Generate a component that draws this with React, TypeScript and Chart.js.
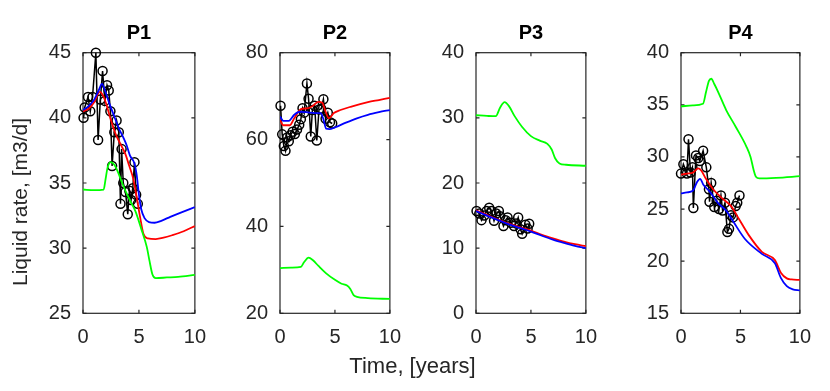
import React, { useEffect, useRef } from 'react';
import { Chart, registerables } from 'chart.js';

Chart.register(...registerables);

const FONT = '"Liberation Sans", Arial, Helvetica, sans-serif';
const AXIS = '#262626';

// ---------- P1 ----------
const p1BlueT = [0, 0.5, 1.0, 1.4, 1.7, 2.0, 2.4, 2.8, 3.2, 3.6, 3.9, 4.2, 4.6, 4.8, 5.0, 5.2, 5.5, 5.9, 6.4, 7.0, 7.8, 8.8, 10];
const p1BlueV = [40.6, 40.9, 41.4, 42.1, 42.6, 42.0, 41.0, 40.1, 39.2, 38.5, 37.9, 37.1, 36.5, 35.6, 34.1, 33.0, 32.3, 32.0, 31.95, 32.1, 32.4, 32.75, 33.15];
const p1RedT = [0, 0.5, 1.0, 1.5, 1.8, 2.1, 2.4, 2.9, 3.4, 3.8, 4.1, 4.5, 4.8, 5.1, 5.4, 5.8, 6.5, 7.2, 8.0, 9.0, 10];
const p1RedV = [40.5, 40.7, 41.2, 42.0, 41.7, 41.0, 40.1, 38.8, 37.9, 37.2, 36.4, 35.3, 33.9, 32.4, 31.1, 30.75, 30.7, 30.8, 31.0, 31.3, 31.7];
const p1GreenT = [0, 1.0, 1.85, 2.0, 2.2, 2.5, 2.8, 3.1, 3.5, 3.9, 4.3, 4.7, 5.2, 5.7, 5.95, 6.2, 6.5, 7.5, 8.5, 10];
const p1GreenV = [34.5, 34.45, 34.5, 35.2, 36.2, 36.6, 36.4, 35.9, 35.0, 34.2, 33.5, 32.8, 31.5, 30.1, 29.0, 28.0, 27.7, 27.75, 27.8, 27.95];
const p1ObsT = [0.05, 0.15, 0.45, 0.65, 0.85, 1.15, 1.35, 1.55, 1.75, 1.95, 2.15, 2.3, 2.45, 2.6, 2.8, 3.0, 3.2, 3.35, 3.45, 3.6, 3.8, 4.0, 4.15, 4.3, 4.45, 4.6, 4.75, 4.9];
const p1ObsV = [40.0, 40.8, 41.6, 40.5, 41.6, 45.0, 38.3, 41.4, 43.6, 41.3, 42.5, 42.1, 40.5, 36.3, 38.9, 39.8, 38.9, 33.4, 37.6, 35.0, 34.3, 32.6, 34.4, 33.7, 34.6, 36.6, 34.1, 33.4];

// ---------- P2 ----------
const p2BlueT = [0, 0.3, 0.8, 1.3, 1.8, 2.4, 3.2, 3.7, 3.95, 4.2, 4.5, 5.0, 6.0, 7.0, 8.0, 9.0, 10];
const p2BlueV = [65.3, 64.3, 64.3, 65.7, 66.4, 66.3, 66.1, 66.1, 64.7, 62.5, 62.4, 62.8, 63.9, 64.9, 65.7, 66.3, 66.8];
const p2RedT = [0, 0.3, 0.9, 1.3, 1.9, 2.5, 3.0, 3.5, 3.85, 4.15, 4.45, 4.9, 5.5, 6.5, 8.0, 9.0, 10];
const p2RedV = [64.5, 63.3, 63.3, 64.9, 67.0, 67.2, 67.8, 68.7, 68.5, 66.4, 64.9, 66.1, 66.8, 67.6, 68.6, 69.1, 69.6];
const p2GreenT = [0, 1.0, 1.9, 2.2, 2.6, 3.0, 3.5, 4.2, 5.0, 5.6, 6.1, 6.4, 6.7, 7.0, 8.0, 10];
const p2GreenV = [30.4, 30.5, 30.7, 31.8, 32.8, 32.2, 30.9, 29.2, 27.7, 26.8, 26.4, 25.6, 24.2, 23.8, 23.5, 23.3];
const p2ObsT = [0.05, 0.2, 0.35, 0.5, 0.65, 0.8, 0.95, 1.15, 1.35, 1.55, 1.75, 1.9, 2.05, 2.2, 2.45, 2.6, 2.8, 2.95, 3.15, 3.35, 3.55, 3.75, 3.95, 4.15, 4.35, 4.55, 4.75];
const p2ObsV = [67.8, 61.2, 58.5, 57.4, 60.5, 59.6, 61.0, 61.8, 61.3, 62.3, 63.4, 64.7, 67.2, 66.2, 72.9, 69.4, 60.7, 66.8, 67.8, 59.8, 66.9, 67.1, 69.3, 64.8, 66.2, 64.0, 63.7];

// ---------- P3 ----------
const p3BlueT = [0, 1, 2, 3, 4, 5, 6, 7, 8, 9, 10];
const p3BlueV = [15.7, 15.0, 14.3, 13.65, 13.1, 12.55, 11.9, 11.3, 10.8, 10.35, 10.0];
const p3RedT = [0, 1, 2, 3, 4, 5, 6, 7, 8, 9, 10];
const p3RedV = [15.8, 15.1, 14.4, 13.75, 13.2, 12.7, 12.05, 11.5, 11.0, 10.6, 10.3];
const p3GreenT = [0, 1.0, 1.8, 2.2, 2.6, 3.0, 3.5, 4.2, 5.0, 5.8, 6.5, 6.9, 7.2, 7.6, 8.2, 10];
const p3GreenV = [30.4, 30.3, 30.25, 31.6, 32.4, 31.8, 30.3, 28.6, 27.2, 26.5, 26.0, 25.1, 23.8, 23.0, 22.8, 22.65];
const p3ObsT = [0.05, 0.3, 0.5, 0.75, 0.97, 1.2, 1.4, 1.64, 1.85, 2.08, 2.2, 2.5, 2.7, 2.87, 3.17, 3.46, 3.65, 3.84, 4.05, 4.2, 4.5, 4.7, 4.84];
const p3ObsV = [15.7, 15.3, 14.3, 15.0, 15.7, 16.2, 15.7, 14.2, 15.3, 15.7, 14.9, 13.4, 14.3, 14.7, 13.9, 13.4, 13.8, 14.7, 12.9, 12.2, 13.6, 13.0, 13.75];

// ---------- P4 ----------
const p4BlueT = [0, 0.5, 1.0, 1.35, 1.6, 1.9, 2.4, 3.1, 3.8, 4.45, 5.4, 6.8, 7.9, 8.4, 8.9, 9.4, 10];
const p4BlueV = [26.5, 26.6, 26.75, 27.6, 27.9, 27.3, 26.7, 25.6, 24.85, 23.7, 22.1, 20.7, 19.8, 18.4, 17.6, 17.3, 17.2];
const p4RedT = [0, 0.5, 1.0, 1.45, 1.7, 2.1, 2.7, 3.5, 4.2, 4.9, 5.7, 6.8, 7.9, 8.4, 8.9, 9.3, 10];
const p4RedV = [28.3, 28.4, 28.5, 28.9, 28.7, 27.9, 26.9, 26.0, 25.3, 24.0, 22.5, 20.9, 20.1, 18.9, 18.35, 18.25, 18.2];
const p4GreenT = [0, 1.0, 1.85, 2.1, 2.35, 2.55, 2.8, 3.1, 3.8, 4.6, 5.5, 5.85, 6.1, 6.3, 6.6, 8.0, 10];
const p4GreenV = [34.85, 34.95, 35.1, 36.2, 37.3, 37.5, 37.0, 36.3, 34.5, 32.9, 31.0, 30.0, 28.8, 28.1, 27.95, 28.0, 28.15];
const p4ObsT = [0.0, 0.2, 0.5, 0.63, 0.8, 0.96, 1.04, 1.26, 1.45, 1.58, 1.86, 2.13, 2.35, 2.4, 2.54, 2.8, 3.0, 3.2, 3.36, 3.5, 3.7, 3.9, 4.04, 4.2, 4.37, 4.6, 4.73, 4.92];
const p4ObsV = [28.4, 29.3, 28.4, 31.7, 28.5, 29.0, 25.1, 30.15, 29.9, 29.6, 30.6, 29.0, 26.9, 25.7, 27.5, 25.2, 25.8, 25.0, 26.3, 24.85, 25.6, 22.8, 23.1, 24.4, 24.2, 25.3, 25.6, 26.3];

// ---------- axes ----------
const titles = ['P1', 'P2', 'P3', 'P4'];
const yMins = [25, 20, 0, 15];
const yMaxs = [45, 80, 40, 40];
const ySteps = [5, 20, 10, 5];
const xMin = 0;
const xMax = 10;
const xStep = 5;
const yLabel = 'Liquid rate, [m3/d]';
const xLabel = 'Time, [years]';

const pts = (t: number[], v: number[]) => t.map((x, i) => ({ x, y: v[i] }));

const series = [
  { blue: pts(p1BlueT, p1BlueV), red: pts(p1RedT, p1RedV), green: pts(p1GreenT, p1GreenV), obs: pts(p1ObsT, p1ObsV) },
  { blue: pts(p2BlueT, p2BlueV), red: pts(p2RedT, p2RedV), green: pts(p2GreenT, p2GreenV), obs: pts(p2ObsT, p2ObsV) },
  { blue: pts(p3BlueT, p3BlueV), red: pts(p3RedT, p3RedV), green: pts(p3GreenT, p3GreenV), obs: pts(p3ObsT, p3ObsV) },
  { blue: pts(p4BlueT, p4BlueV), red: pts(p4RedT, p4RedV), green: pts(p4GreenT, p4GreenV), obs: pts(p4ObsT, p4ObsV) },
];

// layout (pixel boxes of each axes)
const boxLeft = [83, 280, 476, 681];
const boxRight = [198, 393, 589, 803];
const boxTop = 52.7;
const boxBottom = 313.3;
const H = 391;
const Y_AXIS_W = 60;
const RIGHT_PAD = 20;

const framePlugin = {
  id: 'frameBox',
  beforeDatasetsDraw(chart: any) {
    const { ctx, chartArea: a, scales } = chart;
    ctx.save();
    ctx.strokeStyle = AXIS;
    ctx.lineWidth = 1.2;
    ctx.strokeRect(a.left, a.top, a.right - a.left, a.bottom - a.top);
    const tl = 3.5;
    ctx.beginPath();
    scales.x.ticks.forEach((t: any) => {
      const px = scales.x.getPixelForValue(t.value);
      ctx.moveTo(px, a.bottom);
      ctx.lineTo(px, a.bottom - tl);
      ctx.moveTo(px, a.top);
      ctx.lineTo(px, a.top + tl);
    });
    scales.y.ticks.forEach((t: any) => {
      const py = scales.y.getPixelForValue(t.value);
      ctx.moveTo(a.left, py);
      ctx.lineTo(a.left + tl, py);
      ctx.moveTo(a.right, py);
      ctx.lineTo(a.right - tl, py);
    });
    ctx.stroke();
    ctx.restore();
  },
};

function Panel({ idx }: { idx: number }) {
  const ref = useRef<HTMLCanvasElement | null>(null);
  useEffect(() => {
    if (!ref.current) return;
    const s = series[idx];
    const line = (data: any, color: string) => ({
      data,
      showLine: true,
      borderColor: color,
      backgroundColor: color,
      borderWidth: 1.8,
      pointRadius: 0,
      cubicInterpolationMode: 'monotone' as const,
    });
    const chart = new Chart(ref.current, {
      type: 'scatter',
      data: {
        datasets: [
          line(s.green, '#00ff00'),
          line(s.blue, '#0000ff'),
          line(s.red, '#ff0000'),
          {
            data: s.obs,
            showLine: true,
            borderColor: '#000000',
            backgroundColor: 'rgba(0,0,0,0)',
            borderWidth: 1.5,
            pointRadius: 4.5,
            pointBorderWidth: 1.5,
            pointBorderColor: '#000000',
            pointBackgroundColor: 'rgba(0,0,0,0)',
            clip: false,
          } as any,
        ],
      },
      options: {
        animation: false,
        responsive: true,
        maintainAspectRatio: false,
        events: [],
        layout: { padding: { left: 0, right: RIGHT_PAD, top: 0, bottom: 0 } },
        plugins: {
          legend: { display: false },
          tooltip: { enabled: false },
          title: {
            display: true,
            text: titles[idx],
            fullSize: false,
            color: '#000000',
            font: { family: FONT, size: 20, weight: 'bold', lineHeight: 1.2 },
            padding: { top: 21, bottom: boxTop - 21 - 24 },
          },
        },
        scales: {
          x: {
            type: 'linear',
            min: xMin,
            max: xMax,
            afterFit: (sc: any) => {
              sc.height = H - boxBottom;
            },
            grid: { display: false, drawTicks: false },
            border: { display: false },
            ticks: {
              stepSize: xStep,
              color: AXIS,
              font: { family: FONT, size: 20 },
              padding: 12,
              maxRotation: 0,
              autoSkip: false,
            },
          },
          y: {
            type: 'linear',
            min: yMins[idx],
            max: yMaxs[idx],
            afterFit: (sc: any) => {
              sc.width = Y_AXIS_W;
            },
            grid: { display: false, drawTicks: false },
            border: { display: false },
            ticks: {
              stepSize: ySteps[idx],
              color: AXIS,
              font: { family: FONT, size: 20 },
              padding: 12,
              autoSkip: false,
            },
          },
        },
      } as any,
      plugins: [framePlugin],
    });
    return () => chart.destroy();
  }, [idx]);

  const w = boxRight[idx] - boxLeft[idx] + Y_AXIS_W + RIGHT_PAD;
  return (
    <div style={{ position: 'absolute', left: boxLeft[idx] - Y_AXIS_W, top: 0, width: w, height: H }}>
      <canvas ref={ref} />
    </div>
  );
}

export default function App() {
  return (
    <div style={{ position: 'absolute', left: 0, top: 0, width: 830, height: H, background: '#ffffff', overflow: 'hidden' }}>
      {[0, 1, 2, 3].map((i) => (
        <Panel key={i} idx={i} />
      ))}
      <div
        style={{
          position: 'absolute',
          left: 262.5,
          top: 353,
          width: 300,
          height: 26,
          lineHeight: '26px',
          textAlign: 'center',
          fontFamily: FONT,
          fontSize: 22,
          color: AXIS,
          whiteSpace: 'nowrap',
        }}
      >
        {xLabel}
      </div>
      <div
        style={{
          position: 'absolute',
          left: 20 - 150,
          top: 202 - 13,
          width: 300,
          height: 26,
          lineHeight: '26px',
          textAlign: 'center',
          fontFamily: FONT,
          fontSize: 21,
          color: AXIS,
          whiteSpace: 'nowrap',
          transform: 'rotate(-90deg)',
        }}
      >
        {yLabel}
      </div>
    </div>
  );
}
